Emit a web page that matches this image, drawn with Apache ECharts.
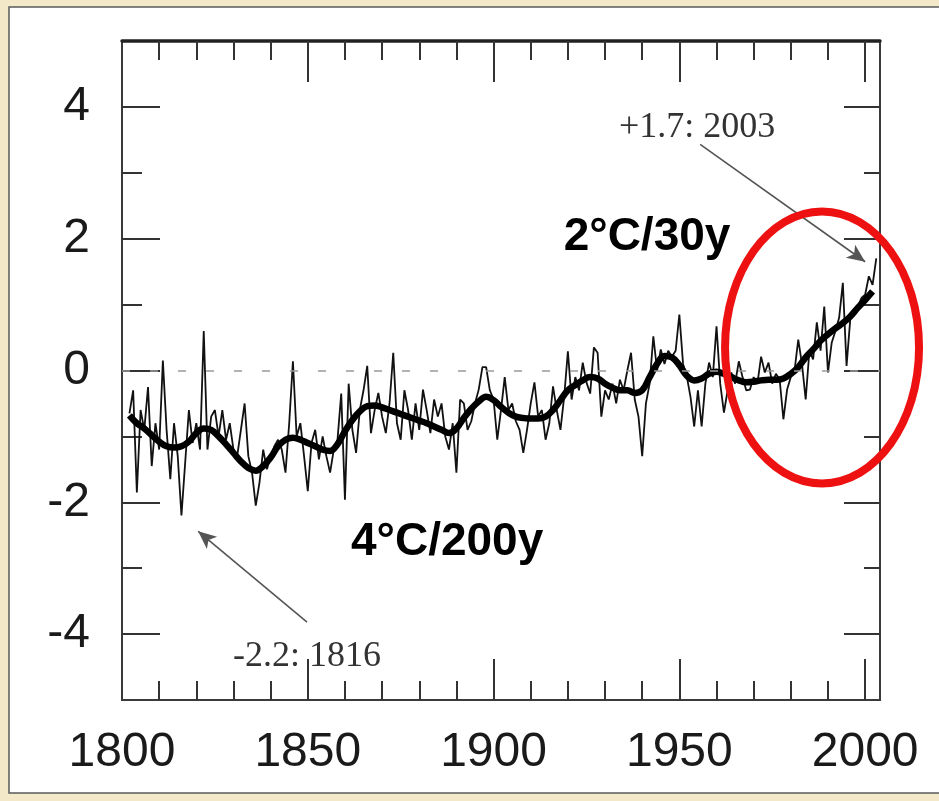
<!DOCTYPE html>
<html><head><meta charset="utf-8">
<script src="https://cdn.jsdelivr.net/npm/echarts@6/dist/echarts.min.js"></script>
<style>html,body{margin:0;padding:0;background:#f3e8c8;}#c{width:939px;height:801px;}</style>
</head><body><div id="c"></div>
<script>
// ---- data ----
const annualStart = 1802;
const annual = [
  -0.65,-0.3,-1.85,-0.6,-0.9,-0.25,-1.45,-0.8,            // 1802-1809
  -1.2,0.15,-0.9,-1.65,-0.8,-1.3,-2.2,-1.4,-0.6,-1.1,     // 1810s
  -0.8,-1.2,0.6,-1.2,-0.7,-0.6,-1.0,-0.6,-1.05,-0.8,      // 1820s
  -1.2,-1.3,-0.9,-0.5,-1.3,-1.55,-2.05,-1.7,-1.2,-1.5,    // 1830s
  -1.3,-1.15,-1.05,-1.2,-1.55,-0.8,0.14,-1.0,-0.8,-1.3,   // 1840s
  -1.83,-1.1,-0.9,-1.35,-1.0,-1.3,-1.55,-1.2,-1.05,-0.35, // 1850s
  -1.96,-0.2,-0.9,-1.25,-0.6,-0.3,0.07,-0.95,-0.6,-0.34,  // 1860s
  -0.7,-0.95,-0.5,0.27,-0.8,-1.05,-0.3,-0.6,-1.05,-0.5,   // 1870s
  -0.9,-0.29,-0.6,-0.95,-0.44,-0.7,-0.5,-1.0,-1.2,-0.8,   // 1880s
  -1.55,-0.44,-0.5,-0.9,-0.77,-0.5,-0.29,0.05,0.05,-0.3,  // 1890s
  -0.44,-1.05,-0.6,-0.1,-0.6,-0.5,-0.77,-0.9,-1.25,-0.9,  // 1900s
  -0.5,-0.18,-0.7,-0.6,-1.05,-0.8,-0.24,-0.6,-0.9,-0.4,   // 1910s
  0.29,-0.44,-0.1,-0.3,0.12,-0.18,-0.35,0.35,0.27,-0.7,   // 1920s
  -0.3,-0.44,-0.2,-0.5,-0.14,-0.3,0.0,0.27,-0.44,-0.7,    // 1930s
  -1.3,-0.5,-0.2,0.52,0.0,0.32,0.1,0.3,0.21,0.3,          // 1940s
  0.85,0.1,-0.09,-0.4,-0.85,-0.3,-0.85,-0.2,0.12,-0.1,    // 1950s
  0.67,-0.2,-0.64,-0.3,-0.03,-0.2,0.14,-0.1,-0.3,-0.29,   // 1960s
  -0.1,-0.2,0.21,-0.03,0.12,-0.2,-0.05,-0.14,-0.74,-0.29, // 1970s
  -0.1,0.0,0.47,0.1,-0.44,0.3,0.17,0.73,0.3,0.97,         // 1980s
  -0.03,0.42,0.6,0.8,1.33,0.07,0.78,0.9,0.97,1.1,         // 1990s
  1.15,1.43,1.3,1.7                                        // 2000-2003
];
const smoothStart = 1802, smoothStep = 2;
const smooth = [
  -0.68,-0.8,-0.88,-0.98,-1.08,-1.15,-1.17,-1.15,-1.08,   // 1802-1818
  -0.95,-0.88,-0.9,-1.0,-1.12,-1.25,-1.38,-1.48,-1.52,-1.45, // 1820-1838
  -1.32,-1.15,-1.05,-1.02,-1.05,-1.1,-1.15,-1.2,-1.22,-1.12, // 1840-1858
  -0.92,-0.75,-0.62,-0.54,-0.53,-0.56,-0.6,-0.64,-0.68,-0.72, // 1860-1878
  -0.76,-0.8,-0.85,-0.9,-0.95,-0.88,-0.72,-0.58,-0.47,-0.4,  // 1880-1898
  -0.45,-0.55,-0.64,-0.7,-0.72,-0.73,-0.73,-0.7,-0.6,-0.45,  // 1900-1918
  -0.3,-0.22,-0.15,-0.1,-0.12,-0.2,-0.26,-0.3,-0.3,-0.34,    // 1920-1938
  -0.3,-0.1,0.1,0.22,0.2,0.08,-0.08,-0.15,-0.12,-0.05,       // 1940-1958
  -0.02,-0.05,-0.1,-0.15,-0.18,-0.17,-0.15,-0.14,-0.14,-0.12, // 1960-1978
  -0.05,0.05,0.2,0.32,0.45,0.55,0.64,0.72,0.82,0.95,         // 1980-1998
  1.07,1.2                                                    // 2000-2002
];
const xLabelValues = [1800,1850,1900,1950,2000];
const xMajorTicks = [1850,1900,1950,2000];
const xMinorTicks = [1810,1820,1830,1840,1860,1870,1880,1890,1910,1920,1930,1940,1960,1970,1980,1990];
const yLabelValues = [-4,-2,0,2,4];
const yMinorTicks = [-3,-1,1,3];

// ---- build ----
const annualData = annual.map((v,i)=>[annualStart+i, v]);
const smoothData = smooth.map((v,i)=>[smoothStart+i*smoothStep, v]);

const tickStyle = {color:'#333', width:2};
const labelFont = {fontSize:48, color:'#1a1a1a', fontFamily:'Liberation Sans', formatter:(v)=>String(v)};
function xAx(pos, ticks, len, labels, line){
  return {type:'value', min:1800, max:2004, position:pos, splitLine:{show:false},
    axisLine:{show:!!line, onZero:false, lineStyle:{color:'#222', width:3.5}},
    axisTick:{show:true, inside:true, length:len, customValues:ticks, lineStyle:tickStyle},
    axisLabel: labels ? Object.assign({show:true, customValues:labels, margin:29}, labelFont) : {show:false}};
}
function yAx(pos, ticks, len, labels){
  return {type:'value', min:-5, max:5, position:pos, splitLine:{show:false},
    axisLine:{show:false, onZero:false},
    axisTick:{show:true, inside:true, length:len, customValues:ticks, lineStyle:tickStyle},
    axisLabel: labels ? Object.assign({show:true, customValues:labels, margin:32}, labelFont) : {show:false}};
}

const chart = echarts.init(document.getElementById('c'), null, {renderer:'canvas'});
chart.setOption({
  animation:false,
  backgroundColor:'#f3e8c8',
  grid:{left:122, right:59, top:41, bottom:101, show:true, borderColor:'#3a3a3a', borderWidth:2, backgroundColor:'rgba(0,0,0,0)'},
  xAxis:[ xAx('bottom', xMajorTicks, 41, xLabelValues), xAx('bottom', xMinorTicks, 19, null),
          xAx('top', xMajorTicks, 41, null, true), xAx('top', xMinorTicks, 19, null) ],
  yAxis:[ yAx('left', yLabelValues, 38, yLabelValues), yAx('left', yMinorTicks, 20, null),
          yAx('right', yLabelValues, 36, null), yAx('right', yMinorTicks, 16, null) ],
  series:[
    {type:'line', data:annualData, xAxisIndex:0, yAxisIndex:0, showSymbol:false, symbol:'none',
     lineStyle:{color:'#111', width:1.8}, z:3, silent:true,
     markLine:{silent:true, symbol:['none','arrow'], symbolSize:[12,18], label:{show:false},
       lineStyle:{color:'#555', width:1.6, type:'solid'},
       data:[
         [{coord:[1955.6,3.43]},{coord:[2000.0,1.65]}],
         [{coord:[1849.8,-3.82]},{coord:[1820.5,-2.44]}]
       ]}},
    {type:'line', data:smoothData, xAxisIndex:0, yAxisIndex:0, showSymbol:false, symbol:'none', smooth:0.4,
     lineStyle:{color:'#000', width:6.5}, z:4, silent:true,
     markLine:{silent:true, symbol:'none', label:{show:false},
       lineStyle:{color:'#9a9a9a', width:1.5, type:[8,20]},
       data:[{yAxis:0}]}}
  ],
  graphic:[{id:'box', type:'rect', z:-10, shape:{x:9, y:7, width:940, height:786},
            style:{fill:'#ffffff', stroke:'#5a5a5a', lineWidth:1.5}}]
});

const px = (x,y)=>chart.convertToPixel({gridIndex:0},[x,y]);
const ec = px(1988.4, 0.35);
const t1 = px(1954.8, 3.69), t2 = px(1849.8, -4.34), t3 = px(1941.3, 2.02), t4 = px(1887.5, -2.61);
chart.setOption({graphic:[
  {id:'box', type:'rect', z:-10, shape:{x:9, y:7, width:940, height:786},
   style:{fill:'#ffffff', stroke:'#5a5a5a', lineWidth:1.5}},
  {id:'ell', type:'ellipse', z:100, shape:{cx:ec[0], cy:ec[1], rx:97, ry:136},
   style:{fill:'none', stroke:'#ee1111', lineWidth:8}},
  {id:'t1', type:'text', z:100, x:t1[0], y:t1[1], style:{text:'+1.7: 2003', font:'36px "Liberation Serif"', fill:'#333', align:'center', verticalAlign:'middle'}},
  {id:'t2', type:'text', z:100, x:t2[0], y:t2[1], style:{text:'-2.2: 1816', font:'36px "Liberation Serif"', fill:'#333', align:'center', verticalAlign:'middle'}},
  {id:'t3', type:'text', z:100, x:t3[0], y:t3[1], style:{text:'2°C/30y', font:'bold 46px "Liberation Sans"', fill:'#000', align:'center', verticalAlign:'middle'}},
  {id:'t4', type:'text', z:100, x:t4[0], y:t4[1], style:{text:'4°C/200y', font:'bold 46px "Liberation Sans"', fill:'#000', align:'center', verticalAlign:'middle'}}
]});
</script></body></html>
